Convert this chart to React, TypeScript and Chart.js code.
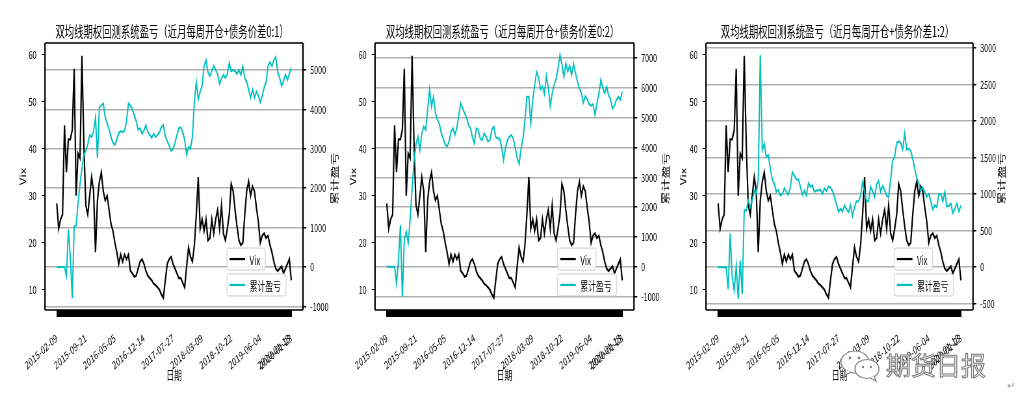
import React, { useEffect, useRef } from 'react';
import { Chart, registerables } from 'chart.js';
Chart.register(...registerables);

// ---------- data (sampled every STEP trading days, index 0 = 2015-02-09) ----------
const STEP = 10;
const LAST_INDEX = 1210;
const X_TICK_POS = [0, 150, 300, 450, 600, 750, 900, 1050, 1200, 1210];
const X_TICK_LABELS = ['2015-02-09', '2015-09-21', '2016-05-05', '2016-12-14', '2017-07-27', '2018-03-09', '2018-10-22', '2019-06-04', '2020-01-13', '2020-01-23'];

const VIX = [
  28.4, 23, 25, 26, 45, 35, 42, 42, 44, 57,
  30, 39, 38, 59.8, 41, 28, 26, 30, 34, 31,
  18, 29, 33, 35, 31, 29, 30, 27, 24, 22.5,
  20, 18, 15.5, 17.5, 16, 17.5, 16.5, 17.5, 14, 13.5,
  12.8, 13, 14.5, 16, 16.5, 15.5, 14, 13, 12.5, 12,
  11.3, 11, 10.5, 10, 9, 8.3, 12, 15.5, 16.5, 17,
  15.5, 14.5, 13.5, 12.5, 12.5, 11.5, 10.5, 15, 19, 17,
  16, 19.5, 26, 34, 23, 25, 22.5, 25, 20.5, 21,
  25, 22, 25, 27, 23, 28, 22, 20.5, 23, 26,
  32.5, 31, 27, 23.5, 20.5, 19.5, 20, 26, 31, 33,
  30, 32, 31, 27.5, 24.5, 20, 21.5, 22, 21, 21.5,
  19.5, 18, 16, 14.5, 14, 14.5, 15, 13.5, 14.5, 15.5,
  16.5, 12,
];

const PNL_0_1 = [
  0, 0, 0, 0, 0, -230, 950, 280, -790, 1030,
  1050, 1620, 2100, 2500, 2850, 2950, 3100, 3350, 3300, 3450,
  3800, 2770, 4050, 4100, 4150, 3800, 3650, 3500, 3300, 3150,
  3100, 3250, 3400, 3450, 3420, 3460, 3700, 4150, 4100, 4000,
  3850, 3700, 3480, 3520, 3380, 3470, 3600, 3420, 3350, 3280,
  3380, 3300, 3350, 3420, 3550, 3600, 3320, 3200, 3080, 2950,
  3000, 3150, 3350, 3520, 3550, 3420, 3230, 2850, 3050, 3000,
  3300, 4200, 4700, 4250, 4450, 4600, 5100, 5250, 4950, 4850,
  4980, 5100, 5000, 4900, 4650, 4780, 4880, 4800, 4900, 5180,
  4970, 5000, 4970, 4900, 5000, 4880, 5090, 4800, 4700, 4500,
  4300, 4500, 4300, 4450, 4350, 4180, 4350, 4550, 4700, 5100,
  5200, 5100, 5250, 5330, 4950, 4800, 4600, 4720, 4880, 4750,
  4900, 5050,
];

const PNL_0_2 = [
  0, 0, 0, 0, 0, -560, 225, 1400, -1000, 900,
  1175, 800, 1570, 2600, 3580, 4100, 4370, 3920, 4480, 4700,
  4590, 5260, 5950, 5370, 5700, 5150, 4920, 4800, 4480, 4300,
  4100, 4030, 4200, 4530, 4650, 4420, 4650, 5090, 5480, 5310,
  5150, 5000, 4750, 4650, 4350, 4140, 4650, 4600, 4300, 4250,
  4480, 4370, 4200, 4250, 4600, 4700, 4350, 4300, 4300, 4030,
  3580, 4000, 4250, 4360, 4420, 4300, 4000, 3650, 3450, 3950,
  4300, 4900, 5700, 5700, 4810, 5600, 6100, 6540, 6350, 5950,
  6050, 5800, 6400, 6000, 5400, 5800, 6100, 6300, 6650, 7100,
  6800, 6370, 6820, 6550, 6750, 6430, 6800, 6500, 6200, 5980,
  5820, 5500, 5720, 5620, 5450, 5400, 5450, 5100, 5480, 5800,
  6270, 6000, 5820, 6040, 5750, 5620, 5300, 5400, 5600, 5700,
  5600, 5870,
];

const PNL_1_2 = [
  0, 0, 0, 0, 0, -300, 460, -140, -320, 20,
  -430, 90, -365, 780, 777, 915, 822, 915, 1050, 1005,
  1200, 2900, 1600, 1690, 1510, 1530, 1350, 1200, 1140, 1030,
  1060, 980, 1000, 1080, 1030, 990, 1100, 1300, 1250, 1200,
  1200, 1100, 990, 1050, 980, 1150, 1100, 1120, 1030, 1050,
  1050, 1060, 1005, 1075, 1040, 1100, 1090, 1040, 960, 860,
  760, 800, 760, 845, 790, 750, 850, 700, 822, 900,
  900, 980, 1160, 1030, 900, 900, 1100, 1040, 960, 1130,
  1180, 1030, 1110, 1050, 980, 960, 1200, 1460, 1510, 1700,
  1720, 1700, 1610, 1830, 1610, 1620, 1590, 1480, 1350, 1220,
  1150, 1040, 1090, 1030, 960, 1000, 900, 790, 845, 820,
  1000, 1000, 900, 1030, 830, 840, 870, 740, 800, 870,
  760, 845,
];

const VIX_TICKS = [10, 20, 30, 40, 50, 60];
const PNL_0_1_TICKS = [-1000, 0, 1000, 2000, 3000, 4000, 5000];
const PNL_0_2_TICKS = [-1000, 0, 1000, 2000, 3000, 4000, 5000, 6000, 7000];
const PNL_1_2_TICKS = [-500, 0, 500, 1000, 1500, 2000, 2500, 3000];

const TITLES = [
  '双均线期权回测系统盈亏（近月每周开仓+债务价差0:1）',
  '双均线期权回测系统盈亏（近月每周开仓+债务价差0:2）',
  '双均线期权回测系统盈亏（近月每周开仓+债务价差1:2）',
];
const SERIES_PNL = [PNL_0_1, PNL_0_2, PNL_1_2];
const SERIES_TICKS = [PNL_0_1_TICKS, PNL_0_2_TICKS, PNL_1_2_TICKS];
const PNL_RANGES = [[-1090, 5685], [-1450, 7505], [-585, 3065]];
const VIX_RANGE = [5.7, 62.5];
const X_RANGE = [-60.5, 1270.5];

// ---------- layout / style ----------
const FONT = "'Noto Sans CJK SC', 'Noto Sans', sans-serif";
const H = 411;
const S = 0.65; // horizontal squeeze of the picture
const PLOT_TOP = 43;
const PLOT_BOTTOM = 310;
const CYAN = '#00bfbf';
const LAYOUTS = [
  { cssLeft: 0, cssWidth: 340, plotL: 45, plotR: 303, vixX: 23, rightX: 334 },
  { cssLeft: 340, cssWidth: 340, plotL: 375, plotR: 634, vixX: 353, rightX: 665 },
  { cssLeft: 672, cssWidth: 348, plotL: 706, plotR: 973, vixX: 683, rightX: 1001 },
];

const LABEL_MAP = new Map<number, string>();
X_TICK_POS.forEach((p, i) => LABEL_MAP.set(p, X_TICK_LABELS[i]));
const ALL_IDX: number[] = [];
for (let i = 0; i <= LAST_INDEX; i++) ALL_IDX.push(i);

const decorPlugin = {
  id: 'decor',
  afterDraw(chart: any, _args: any, opts: any) {
    const { ctx, chartArea: a } = chart;
    ctx.save();
    // frame
    ctx.strokeStyle = '#000';
    ctx.lineWidth = 1.4;
    ctx.beginPath();
    ctx.moveTo(a.left, a.top); ctx.lineTo(a.right, a.top);
    ctx.moveTo(a.left, a.bottom); ctx.lineTo(a.right, a.bottom);
    ctx.stroke();
    ctx.lineWidth = 2.2;
    ctx.beginPath();
    ctx.moveTo(a.left, a.top); ctx.lineTo(a.left, a.bottom);
    ctx.moveTo(a.right, a.top); ctx.lineTo(a.right, a.bottom);
    ctx.stroke();
    // title
    ctx.fillStyle = '#000';
    ctx.font = `14.4px ${FONT}`;
    ctx.textAlign = 'center';
    ctx.textBaseline = 'middle';
    ctx.fillText(opts.title, (a.left + a.right) / 2 - 3, 31.5);
    // right axis label (reads bottom to top)
    ctx.save();
    ctx.translate(opts.rightX, (a.top + a.bottom) / 2 + 2);
    ctx.rotate(-Math.PI / 2);
    ctx.font = `13px ${FONT}`;
    ctx.fillText(opts.rightLabel, 0, 0);
    ctx.restore();
    // two legend boxes
    const items = [{ ds: 1, top: 0.768 }, { ds: 0, top: 0.865 }];
    const bl = a.left + 0.705 * (a.right - a.left);
    ctx.font = `12px ${FONT}`;
    items.forEach((it) => {
      const ds = chart.data.datasets[it.ds];
      const tw = ctx.measureText(ds.label).width;
      const bw = 35 + tw + 8;
      const bh = 22;
      const by = a.top + it.top * (a.bottom - a.top);
      ctx.beginPath();
      ctx.roundRect(bl, by, bw, bh, 3);
      ctx.fillStyle = 'rgba(255,255,255,0.8)';
      ctx.fill();
      ctx.strokeStyle = '#cccccc';
      ctx.lineWidth = 1;
      ctx.stroke();
      ctx.beginPath();
      ctx.strokeStyle = ds.borderColor;
      ctx.lineWidth = 2.2;
      ctx.moveTo(bl + 4, by + bh / 2);
      ctx.lineTo(bl + 28, by + bh / 2);
      ctx.stroke();
      ctx.fillStyle = '#000';
      ctx.textAlign = 'left';
      ctx.textBaseline = 'middle';
      ctx.fillText(ds.label, bl + 35, by + bh / 2 + 1);
    });
    ctx.restore();
  },
};

function Panel({ idx }: { idx: number }) {
  const ref = useRef<HTMLCanvasElement>(null);
  const lay = LAYOUTS[idx];
  const Wu = Math.round(lay.cssWidth / S);
  const sx = lay.cssWidth / Wu;

  useEffect(() => {
    const toU = (cssX: number) => (cssX - lay.cssLeft) / sx;
    const leftW = toU(lay.plotL);
    const rightW = Wu - toU(lay.plotR);
    const vixPad = Math.max(toU(lay.vixX) - 7.8, 0);
    const tickFont = { family: FONT, size: 11 };
    const chart = new Chart(ref.current as HTMLCanvasElement, {
      type: 'line',
      data: {
        datasets: [
          {
            label: '累计盈亏',
            data: SERIES_PNL[idx].map((v, k) => ({ x: k * STEP, y: v })),
            yAxisID: 'y2',
            borderColor: CYAN,
            borderWidth: 2,
            pointRadius: 0,
            tension: 0,
            order: 0,
          },
          {
            label: 'Vix',
            data: VIX.map((v, k) => ({ x: k * STEP, y: v })),
            yAxisID: 'y',
            borderColor: '#000000',
            borderWidth: 2.2,
            pointRadius: 0,
            tension: 0,
            order: 1,
          },
        ],
      },
      options: {
        animation: false,
        responsive: false,
        devicePixelRatio: 1,
        layout: { padding: { top: PLOT_TOP, left: 0, right: 0, bottom: 0 } },
        plugins: {
          legend: { display: false },
          tooltip: { enabled: false },
          decor: { title: TITLES[idx], rightLabel: '累计盈亏', rightX: toU(lay.rightX) },
        } as any,
        scales: {
          x: {
            type: 'linear',
            min: X_RANGE[0],
            max: X_RANGE[1],
            afterBuildTicks: (s: any) => { s.ticks = ALL_IDX.map((v) => ({ value: v })); },
            afterFit: (s: any) => { s.height = H - PLOT_BOTTOM; s.paddingLeft = 0; s.paddingRight = 0; },
            grid: { display: true, drawOnChartArea: false, drawTicks: true, tickLength: 7, color: '#000', tickColor: '#000', lineWidth: 1 },
            border: { display: false },
            ticks: {
              autoSkip: false,
              minRotation: 32,
              maxRotation: 32,
              padding: 14,
              font: { family: FONT, size: 11 },
              color: '#000',
              callback: (v: any) => LABEL_MAP.get(Number(v)) ?? '',
            },
            title: { display: true, text: '日期', font: { family: FONT, size: 12 }, color: '#000', padding: { top: 0, bottom: 28 } },
          },
          y: {
            position: 'left',
            min: VIX_RANGE[0],
            max: VIX_RANGE[1],
            afterBuildTicks: (s: any) => { s.ticks = VIX_TICKS.map((v) => ({ value: v })); },
            afterFit: (s: any) => { s.width = leftW; s.paddingTop = 0; s.paddingBottom = 0; },
            grid: { display: true, drawOnChartArea: false, drawTicks: true, tickLength: 5, color: '#000', tickColor: '#000' },
            border: { display: false },
            ticks: { padding: 8, font: tickFont, color: '#000', callback: (v: any) => String(v) },
            title: { display: true, text: 'Vix', font: { family: FONT, size: 13 }, color: '#000', padding: { top: vixPad, bottom: vixPad } },
          },
          y2: {
            position: 'right',
            min: PNL_RANGES[idx][0],
            max: PNL_RANGES[idx][1],
            afterBuildTicks: (s: any) => { s.ticks = SERIES_TICKS[idx].map((v) => ({ value: v })); },
            afterFit: (s: any) => { s.width = rightW; s.paddingTop = 0; s.paddingBottom = 0; },
            grid: { display: true, drawOnChartArea: true, drawTicks: true, tickLength: 5, color: '#b0b0b0', lineWidth: 1.5, tickColor: '#000' },
            border: { display: false },
            ticks: { padding: 6, font: tickFont, color: '#000', callback: (v: any) => String(v) },
          },
        } as any,
      },
      plugins: [decorPlugin as any],
    });
    return () => chart.destroy();
  }, []);

  return (
    <div
      style={{
        position: 'absolute',
        left: lay.cssLeft,
        top: 0,
        width: Wu,
        height: H,
        transform: `scaleX(${sx})`,
        transformOrigin: '0 0',
      }}
    >
      <canvas ref={ref} width={Wu} height={H} style={{ width: Wu, height: H, display: 'block' }} />
    </div>
  );
}

function Watermark() {
  return (
    <>
      <svg style={{ position: 'absolute', left: 838, top: 349, width: 46, height: 34 }} viewBox="0 0 46 34">
        <ellipse cx="17" cy="13" rx="14" ry="11" fill="white" stroke="#8a8a8a" strokeWidth="1.2" />
        <path d="M8 21 L6 27 L13 23" fill="white" stroke="#8a8a8a" strokeWidth="1.2" />
        <ellipse cx="29" cy="20" rx="12" ry="9.5" fill="white" stroke="#8a8a8a" strokeWidth="1.2" />
        <path d="M36 27 L38 32 L32 29" fill="white" stroke="#8a8a8a" strokeWidth="1.2" />
        <circle cx="12" cy="9" r="1.4" fill="#8a8a8a" />
        <circle cx="21" cy="9" r="1.4" fill="#8a8a8a" />
        <circle cx="25" cy="18" r="1.2" fill="#8a8a8a" />
        <circle cx="33" cy="18" r="1.2" fill="#8a8a8a" />
      </svg>
      <div
        style={{
          position: 'absolute',
          left: 886,
          top: 349,
          fontFamily: FONT,
          fontSize: 25,
          lineHeight: '30px',
          color: 'white',
          WebkitTextStroke: '1px #7a7a7a',
          whiteSpace: 'nowrap',
        }}
      >
        期货日报
      </div>
      <div style={{ position: 'absolute', left: 1007, top: 377, fontFamily: FONT, fontSize: 10, color: '#999' }}>↵</div>
    </>
  );
}

export default function App() {
  return (
    <div style={{ position: 'fixed', left: 0, top: 0, width: 1020, height: H, background: '#fff', overflow: 'hidden' }}>
      <Panel idx={0} />
      <Panel idx={1} />
      <Panel idx={2} />
      <Watermark />
    </div>
  );
}
